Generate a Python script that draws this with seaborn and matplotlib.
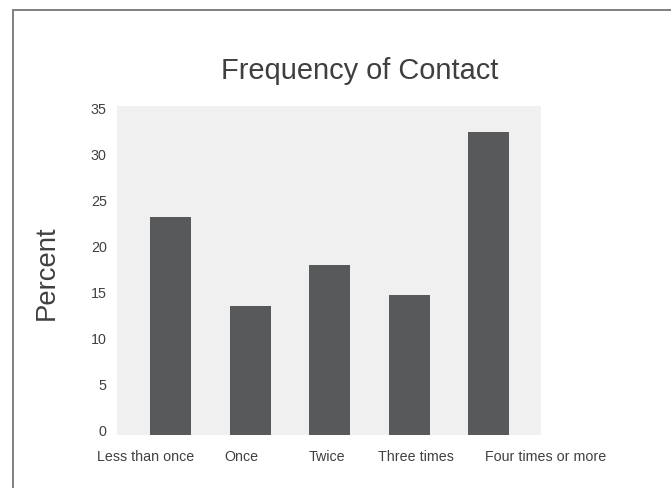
import matplotlib
matplotlib.use("Agg")
import matplotlib.pyplot as plt
import matplotlib.transforms as mtransforms
from matplotlib.lines import Line2D
import seaborn as sns

# Survey results: how often respondents made contact
categories = ["Less than once", "Once", "Twice", "Three times", "Four times or more"]
percent = [23.2, 13.7, 18.1, 14.9, 32.2]
y_ticks = [0, 5, 10, 15, 20, 25, 30, 35]
title = "Frequency of Contact"
y_label = "Percent"

sns.set_style("white", {"axes.facecolor": "#f0f0f0"})
plt.rcParams["font.family"] = ["Liberation Sans", "DejaVu Sans"]

W, H, DPI = 671, 489, 100
fig = plt.figure(figsize=(W / DPI, H / DPI), dpi=DPI)
fig.patch.set_facecolor("white")

# plot area in pixels: left 116.7, right 541, top 107, bottom 436
ax = fig.add_axes([116.7 / W, (H - 436) / H, (541 - 116.7) / W, (436 - 107) / H])

sns.barplot(x=categories, y=percent, color="#58595b", saturation=1,
            width=0.516, linewidth=0, edgecolor="none", ax=ax)

ax.set_xlim(-0.677, 4.66)
ax.set_ylim(0, 35)
ax.set_yticks(y_ticks)
ax.set_yticklabels([str(t) for t in y_ticks])
ax.set_xlabel("")
ax.set_ylabel("")
for s in ax.spines.values():
    s.set_visible(False)

text_col = "#404040"
ax.tick_params(axis="x", length=0, pad=10, labelsize=10.3, labelcolor=text_col)
ax.tick_params(axis="y", length=0, pad=7.2, labelsize=10.3, labelcolor=text_col)

# nudge category labels sideways
x_shift_px = [-25, -8.5, -2.5, 7, 57.5]
for lbl, dx in zip(ax.get_xticklabels(), x_shift_px):
    lbl.set_transform(lbl.get_transform() +
                      mtransforms.ScaledTranslation(dx / DPI, 0, fig.dpi_scale_trans))

# value labels sit on a slightly compressed scale
for lbl, v in zip(ax.get_yticklabels(), y_ticks):
    dy = 5.7 - 7.2 * v / 35
    lbl.set_transform(lbl.get_transform() +
                      mtransforms.ScaledTranslation(0, dy / DPI, fig.dpi_scale_trans))

fig.text(360 / W, (H - 79.3) / H, title, ha="center", va="baseline",
         fontsize=20.9, color="#3f3f3f")
fig.text(46.7 / W, (H - 272.5) / H, y_label, ha="center", va="center",
         rotation=90, fontsize=19.8, color="#3f3f3f")

# frame lines along the top and left edges
bx, by = 12.5 / W, 1 - 11 / H
fig.add_artist(Line2D([bx, bx], [by, -0.05], transform=fig.transFigure,
                      color="#808080", lw=1.4, clip_on=False))
fig.add_artist(Line2D([bx, 1.05], [by, by], transform=fig.transFigure,
                      color="#808080", lw=1.4, clip_on=False))

fig.savefig("out.png", dpi=DPI)
